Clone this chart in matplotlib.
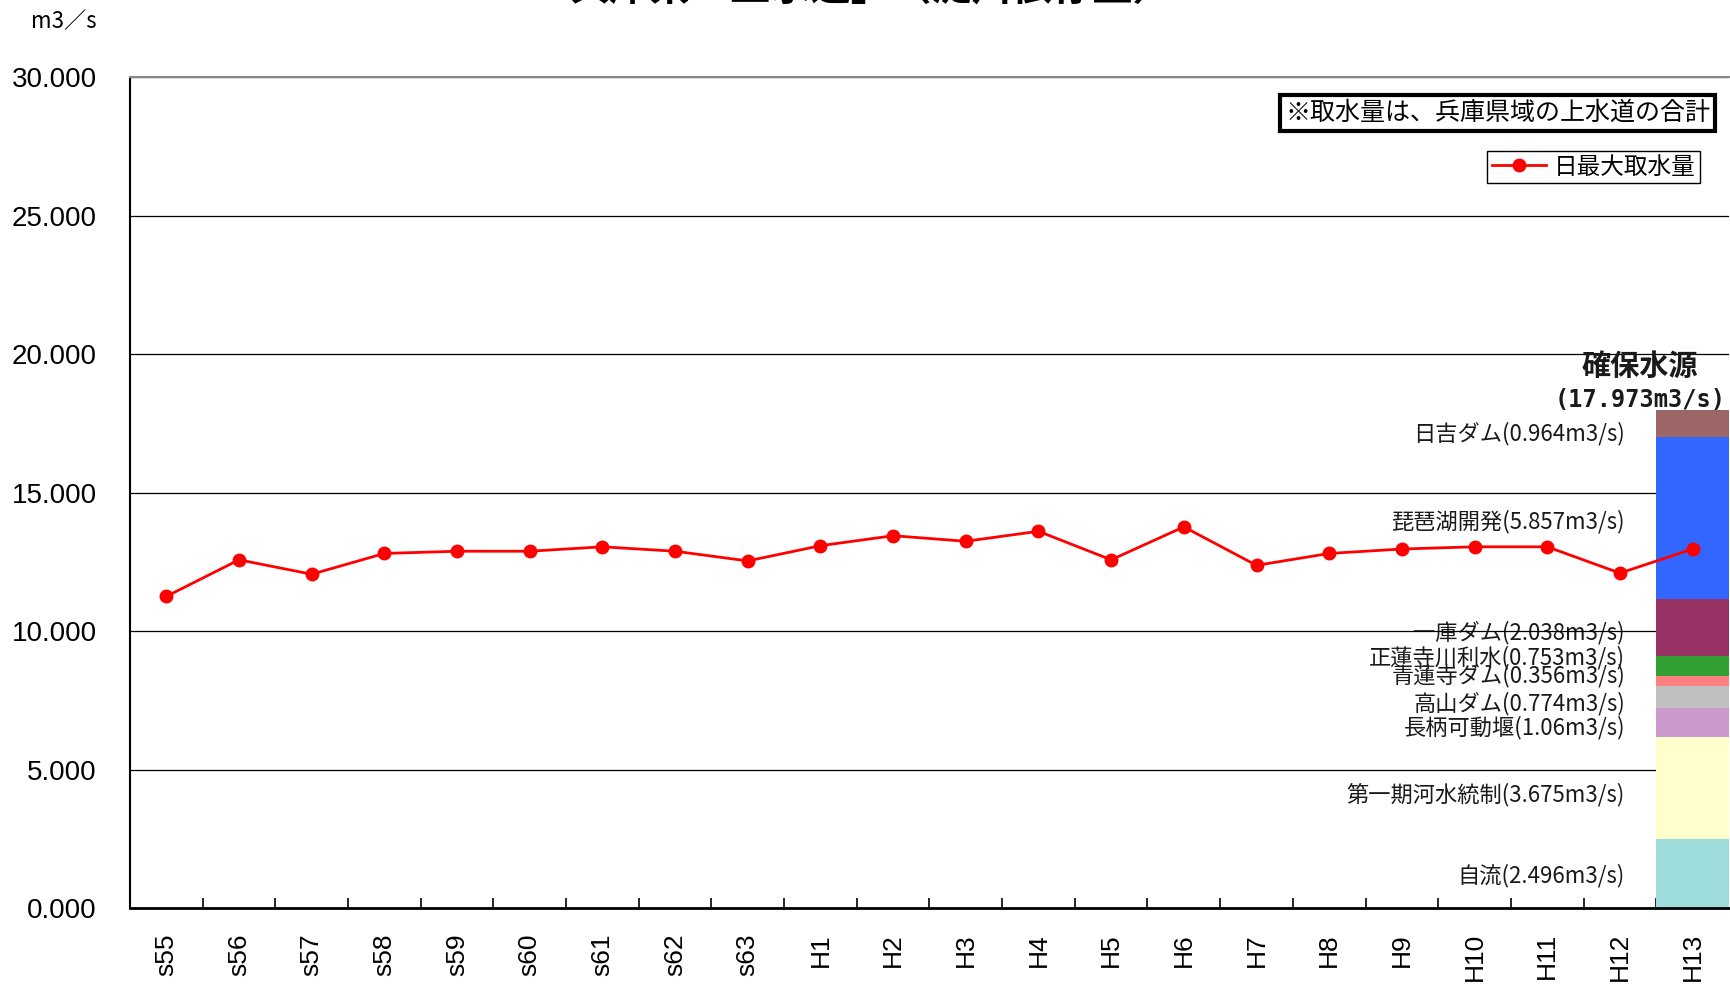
import numpy as np
import matplotlib
matplotlib.use("Agg")
import matplotlib.pyplot as plt

plt.rcParams['font.family'] = ['Noto Sans CJK JP', 'DejaVu Sans']

# data
years = ['s55', 's56', 's57', 's58', 's59', 's60', 's61', 's62', 's63',
         'H1', 'H2', 'H3', 'H4', 'H5', 'H6', 'H7', 'H8', 'H9', 'H10',
         'H11', 'H12', 'H13']
max_intake = [11.25, 12.57, 12.05, 12.80, 12.88, 12.88, 13.04, 12.88, 12.53,
              13.08, 13.44, 13.24, 13.60, 12.57, 13.76, 12.37, 12.80, 12.96,
              13.04, 13.04, 12.09, 12.96]

source_names = ['自流', '第一期河水統制', '長柄可動堰', '高山ダム', '青蓮寺ダム',
                '正蓮寺川利水', '一庫ダム', '琵琶湖開発', '日吉ダム']
source_values = [2.496, 3.675, 1.06, 0.774, 0.356, 0.753, 2.038, 5.857, 0.964]
source_text = ['2.496', '3.675', '1.06', '0.774', '0.356', '0.753', '2.038',
               '5.857', '0.964']
source_colors = ['#9EDCDC', '#FFFFCC', '#CC99CC', '#C0C0C0', '#FF8080',
                 '#33A033', '#993366', '#3366FF', '#9C6666']
# where each source label sits (y, data units)
label_y = [1.16, 4.11, 6.50, 7.38, 8.38, 9.05, 9.93, 13.96, 17.11]

fig = plt.figure(figsize=(17.31, 9.86), dpi=100)
ax = fig.add_axes([0.0751, 0.0791, 0.9237, 0.8428])

x = np.arange(len(years))

# stacked bar of secured sources in the last year
bottom = 0.0
for val, col in zip(source_values, source_colors):
    ax.bar(x[-1], val, bottom=bottom, width=1.0, color=col, zorder=2)
    bottom += val
total = bottom

for name, val, yy in zip(source_names, source_text, label_y):
    ax.text(20.07, yy, f'{name}({val}m3/s)', ha='right', va='center',
            fontsize=16, color='#1a1a1a', zorder=0.4)
ax.text(21.07, 19.58, '確保水源', ha='right', va='center', fontsize=21,
        fontweight='bold', color='#1a1a1a')
ax.text(21.45, 18.35, f'({total:.3f}m3/s)', ha='right', va='center',
        fontsize=17, fontweight='bold', family='DejaVu Sans Mono',
        color='#1a1a1a')

ax.plot(x, max_intake, color='#FF0000', lw=2, marker='o', markersize=9,
        label='日最大取水量', zorder=4)

ax.set_xlim(-0.5, len(years) - 0.5)
ax.set_ylim(0, 30)
ax.set_yticks(np.arange(0, 30.1, 5))
ax.set_yticklabels([f'{v:.3f}' for v in np.arange(0, 30.1, 5)],
                   family='Liberation Sans', fontsize=20)
ax.tick_params(axis='y', length=0, pad=24)

ax.set_xticks(x)
ax.set_xticklabels(years, rotation=90, family='Liberation Sans', fontsize=19)
ax.set_xticks(x[:-1] + 0.5, minor=True)
ax.tick_params(axis='x', which='major', length=0, pad=18)
ax.tick_params(axis='x', which='minor', direction='in', length=7, width=1.2)

ax.set_axisbelow(True)
ax.yaxis.grid(True, color='black', lw=0.9)

ax.spines['left'].set_linewidth(1.5)
ax.spines['bottom'].set_linewidth(2)
ax.spines['top'].set_color('#888888')
ax.spines['top'].set_linewidth(1.5)
ax.spines['right'].set_visible(False)

ax.text(0.8555, 0.9567, '※取水量は、兵庫県域の上水道の合計', transform=ax.transAxes,
        ha='center', va='center', fontsize=18,
        bbox=dict(boxstyle='square,pad=0.2', fc='white', ec='black', lw=3))

leg = ax.legend(loc='upper right', bbox_to_anchor=(0.9819, 0.9110),
                fontsize=17, frameon=True, fancybox=False, framealpha=1,
                edgecolor='black', borderpad=0.2, handlelength=2.3,
                handletextpad=0.3, borderaxespad=0)
leg.get_frame().set_linewidth(1)

fig.text(0.018, 0.978, 'm3／s', ha='left', va='center', fontsize=16)
fig.text(0.503, 1 - 10 / 986, '兵庫県「上水道」（淀川依存量）', ha='center',
         va='bottom', fontsize=29, fontweight='bold')

fig.savefig('out.png', dpi=100)
